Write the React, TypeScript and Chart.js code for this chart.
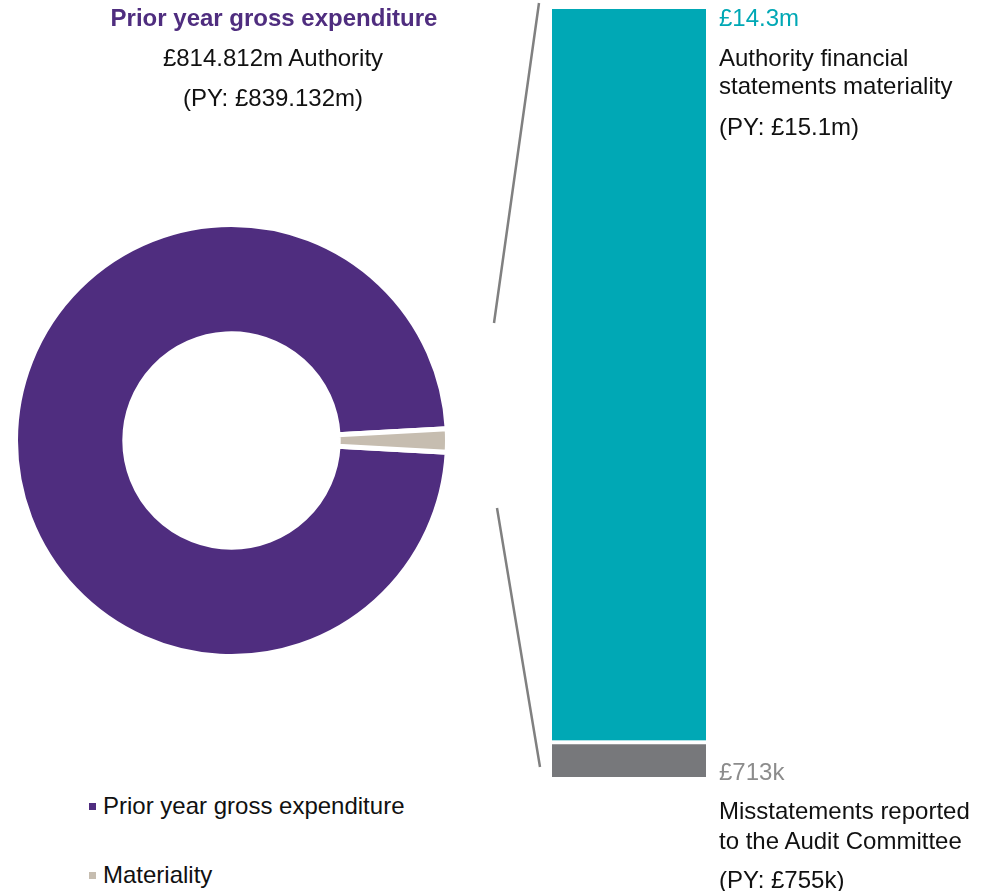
import React, { useEffect, useRef } from "react";
import { Chart, registerables } from "chart.js";

Chart.register(...registerables);

// ---- Data ----
const donutLabels = ["Prior year gross expenditure", "Materiality"];
const donutValues = [814.812, 14.3];
const donutColors = ["#4F2D7F", "#C6BDB0"];

const barLabels = [
  "Misstatements reported to the Audit Committee",
  "Authority financial statements materiality",
];
const barValues = [0.713, 14.3];
const barColors = ["#77787B", "#00A8B5"];

const FONT = "'Liberation Sans', Arial, Helvetica, sans-serif";

const connectorPlugin = {
  id: "connectors",
  afterDraw(chart: any) {
    const { left, top, bottom } = chart.chartArea;
    const ctx = chart.ctx;
    ctx.save();
    ctx.strokeStyle = "#808080";
    ctx.lineWidth = 2.5;
    ctx.lineCap = "butt";
    ctx.beginPath();
    ctx.moveTo(left - 13, top - 6);
    ctx.lineTo(left - 58, top + 314);
    ctx.moveTo(left - 55, top + 499);
    ctx.lineTo(left - 12, bottom - 10);
    ctx.stroke();
    ctx.restore();
  },
};

function Donut() {
  const ref = useRef<HTMLCanvasElement | null>(null);
  useEffect(() => {
    const total = donutValues.reduce((a, b) => a + b, 0);
    const thetaP = (donutValues[0] / total) * 360;
    const thetaM = (donutValues[1] / total) * 360;
    let rotation = 90 - thetaP - thetaM / 2;
    rotation = ((rotation % 360) + 360) % 360;
    const chart = new Chart(ref.current as HTMLCanvasElement, {
      type: "doughnut",
      data: {
        labels: donutLabels,
        datasets: [
          {
            data: donutValues,
            backgroundColor: donutColors,
            borderColor: "#FFFFFF",
            borderWidth: 5,
            hoverOffset: 0,
          },
        ],
      },
      options: {
        animation: false,
        responsive: true,
        maintainAspectRatio: false,
        rotation,
        cutout: "49.4%",
        plugins: { legend: { display: false }, tooltip: { enabled: false } },
        layout: { padding: 0 },
      },
    });
    return () => chart.destroy();
  }, []);
  return (
    <div style={{ position: "absolute", left: 13, top: 222, width: 437, height: 437 }}>
      <canvas ref={ref} />
    </div>
  );
}

function Bar() {
  const ref = useRef<HTMLCanvasElement | null>(null);
  useEffect(() => {
    const total = barValues.reduce((a, b) => a + b, 0);
    const chart = new Chart(ref.current as HTMLCanvasElement, {
      type: "bar",
      data: {
        labels: [""],
        datasets: [
          {
            label: barLabels[0],
            data: [barValues[0]],
            backgroundColor: barColors[0],
            borderColor: "#FFFFFF",
            borderWidth: { top: 4, bottom: 0, left: 0, right: 0 },
            borderSkipped: false,
            barPercentage: 1,
            categoryPercentage: 1,
          },
          {
            label: barLabels[1],
            data: [barValues[1]],
            backgroundColor: barColors[1],
            borderWidth: 0,
            barPercentage: 1,
            categoryPercentage: 1,
          },
        ],
      },
      options: {
        animation: false,
        responsive: true,
        maintainAspectRatio: false,
        layout: { padding: { left: 72, right: 14, top: 9, bottom: 23 } },
        scales: {
          x: { display: false, stacked: true },
          y: { display: false, stacked: true, min: 0, max: total },
        },
        plugins: { legend: { display: false }, tooltip: { enabled: false } },
      },
      plugins: [connectorPlugin],
    });
    return () => chart.destroy();
  }, []);
  return (
    <div style={{ position: "absolute", left: 480, top: 0, width: 240, height: 800 }}>
      <canvas ref={ref} />
    </div>
  );
}

function T(props: {
  x: number;
  cy: number;
  text: string;
  color?: string;
  bold?: boolean;
  center?: boolean;
}) {
  const { x, cy, text, color = "#111111", bold = false, center = false } = props;
  const style: React.CSSProperties = {
    position: "absolute",
    top: cy - 14,
    fontFamily: FONT,
    fontSize: 24,
    lineHeight: "28px",
    color,
    fontWeight: bold ? 700 : 400,
    whiteSpace: "nowrap",
  };
  if (center) {
    style.left = x - 250;
    style.width = 500;
    style.textAlign = "center";
  } else {
    style.left = x;
  }
  return <div style={style}>{text}</div>;
}

function LegendItem(props: { y: number; color: string; text: string }) {
  return (
    <>
      <div
        style={{
          position: "absolute",
          left: 89,
          top: props.y - 3,
          width: 7,
          height: 7,
          background: props.color,
        }}
      />
      <T x={103} cy={props.y} text={props.text} />
    </>
  );
}

export default function App() {
  return (
    <div
      style={{
        position: "absolute",
        left: 0,
        top: 0,
        width: 986,
        height: 891,
        background: "#FFFFFF",
        overflow: "hidden",
      }}
    >
      <Donut />
      <Bar />
      <T x={274} cy={18} text="Prior year gross expenditure" color="#4F2D7F" bold center />
      <T x={273} cy={58} text="£814.812m Authority" center />
      <T x={273} cy={98} text="(PY: £839.132m)" center />

      <T x={719} cy={18} text="£14.3m" color="#00A8B5" />
      <T x={719} cy={58} text="Authority financial" />
      <T x={719} cy={86} text="statements materiality" />
      <T x={719} cy={127} text="(PY: £15.1m)" />

      <T x={719} cy={772} text="£713k" color="#8C8C8C" />
      <T x={719} cy={811} text="Misstatements reported" />
      <T x={719} cy={841} text="to the Audit Committee" />
      <T x={719} cy={880} text="(PY: £755k)" />

      <LegendItem y={806} color={donutColors[0]} text={donutLabels[0]} />
      <LegendItem y={875} color={donutColors[1]} text={donutLabels[1]} />
    </div>
  );
}
